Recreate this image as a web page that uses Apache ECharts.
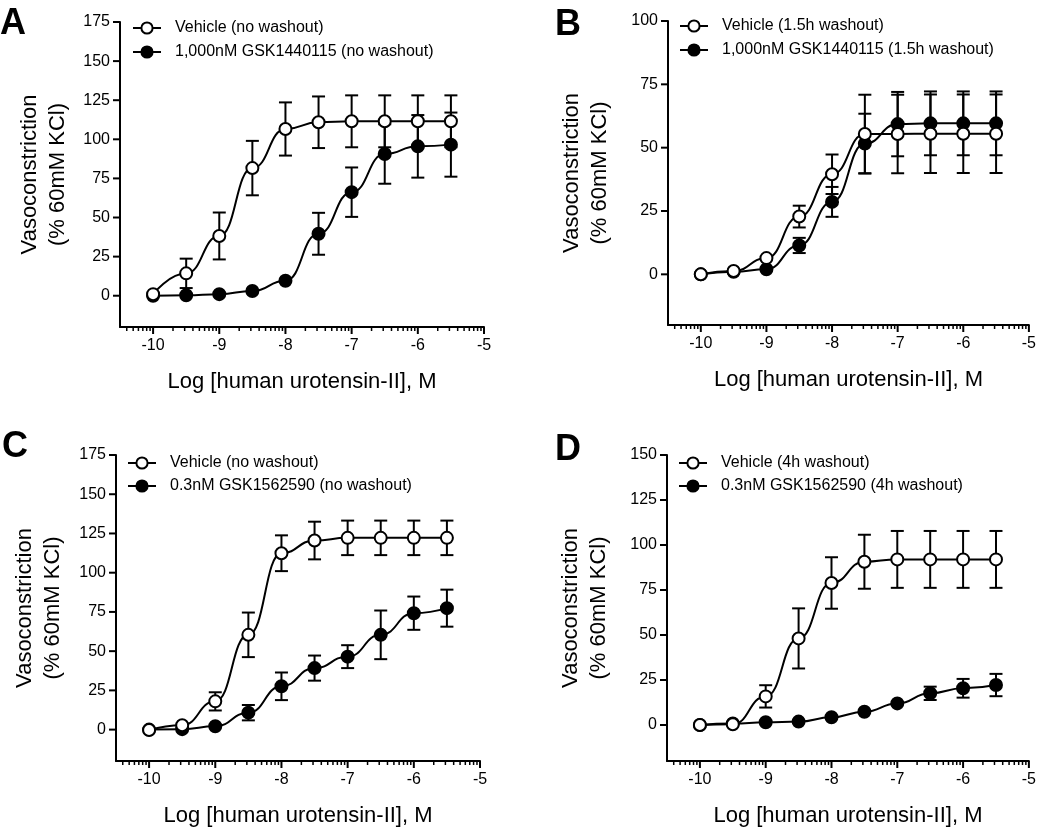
<!DOCTYPE html>
<html><head><meta charset="utf-8">
<script src="https://cdn.jsdelivr.net/npm/echarts@6/dist/echarts.min.js"></script>
<style>html,body{margin:0;padding:0;background:#fff}#c{width:1039px;height:831px}</style>
</head><body><div id="c"></div>
<script>
// ---- data ----
const logConc = [-10, -9.5, -9, -8.5, -8, -7.5, -7, -6.5, -6, -5.5];
const xTickLabels = [-10, -9, -8, -7, -6, -5];
const yTicksA = [0, 25, 50, 75, 100, 125, 150, 175];
const yTicksB = [0, 25, 50, 75, 100];
const yTicksC = [0, 25, 50, 75, 100, 125, 150, 175];
const yTicksD = [0, 25, 50, 75, 100, 125, 150];

const namesA = ['Vehicle (no washout)', '1,000nM GSK1440115 (no washout)'];
const namesB = ['Vehicle (1.5h washout)', '1,000nM GSK1440115 (1.5h washout)'];
const namesC = ['Vehicle (no washout)', '0.3nM GSK1562590 (no washout)'];
const namesD = ['Vehicle (4h washout)', '0.3nM GSK1562590 (4h washout)'];

const vehA    = [1, 14.3, 38.2, 81.6, 106.6, 110.9, 111.5, 111.5, 111.5, 111.5];
const vehA_e  = [0, 9.4, 15, 17.4, 17, 16.5, 16.6, 16.6, 16.6, 16.6];
const drugA   = [0, 0.3, 1, 3, 9.6, 39.6, 66.2, 90.6, 95.5, 96.6];
const drugA_e = [0, 0, 0, 0, 0, 13.4, 15.8, 19, 20, 20.5];

const vehB    = [0, 1.3, 6.4, 22.8, 39.5, 55.4, 55.4, 55.5, 55.5, 55.5];
const vehB_e  = [0, 0, 0, 4.3, 7.8, 15.5, 15.5, 15.5, 15.5, 15.5];
const drugB   = [0, 1, 2, 11.4, 28.6, 51.6, 59.3, 59.6, 59.6, 59.6];
const drugB_e = [0, 0, 0, 3, 5.9, 11.8, 12.7, 12.6, 12.6, 12.6];

const vehC    = [-0.3, 2.8, 18, 60.4, 112.4, 120.5, 122.2, 122.2, 122.2, 122.2];
const vehC_e  = [0, 0, 5.8, 14.2, 11.4, 12, 11, 11, 11, 11];
const drugC   = [0, 0.3, 2.1, 10.8, 27.6, 39.2, 46.5, 60.4, 74.2, 77.4];
const drugC_e = [0, 0, 0, 4.9, 8.8, 8, 7.3, 15.5, 10.6, 11.8];

const vehD    = [0, 0.4, 15.9, 48.1, 78.9, 90.7, 92, 92, 92, 92];
const vehD_e  = [0, 0, 6.2, 16.7, 14.3, 15, 15.8, 15.8, 15.8, 15.8];
const drugD   = [0, 0.8, 1.5, 1.9, 4.3, 7.4, 12, 17.6, 20.4, 22.2];
const drugD_e = [0, 0, 0, 0, 0, 0, 0, 3.7, 5.2, 6.2];

const panelLetters = ['A', 'B', 'C', 'D'];
const xTitle = 'Log [human urotensin-II], M';
const yTitle = 'Vasoconstriction\n(% 60mM KCl)';

// log-spaced minor tick positions (axis decoration)
const xMinorTicks = [];
for (let d = -11; d <= -6; d++) {
  for (let k = 2; k <= 9; k++) {
    const v = d + Math.log10(k);
    if (v > -10.5 && v < -5) xMinorTicks.push(+v.toFixed(4));
  }
}

// ---- layout ----
const FONT = '"Liberation Sans", Arial, sans-serif';
const X_MIN = -10.5, X_MAX = -5, Y_MIN = -20;
const panels = [
  {grid:{left:120, top:22, width:364, height:305}, yMax:175, yTicks:yTicksA, names:namesA, veh:vehA, vehE:vehA_e, drug:drugA, drugE:drugA_e, yGap:48, legend:{left:132, top:20, gap:8}, letter:{x:0, y:6}},
  {grid:{left:668, top:21, width:362, height:304}, yMax:100, yTicks:yTicksB, names:namesB, veh:vehB, vehE:vehB_e, drug:drugB, drugE:drugB_e, yGap:54, legend:{left:679, top:18, gap:8}, letter:{x:555, y:7}},
  {grid:{left:116, top:455, width:364, height:306}, yMax:175, yTicks:yTicksC, names:namesC, veh:vehC, vehE:vehC_e, drug:drugC, drugE:drugC_e, yGap:49, legend:{left:127, top:455, gap:7}, letter:{x:2, y:429}},
  {grid:{left:667, top:455, width:362, height:306}, yMax:150, yTicks:yTicksD, names:namesD, veh:vehD, vehE:vehD_e, drug:drugD, drugE:drugD_e, yGap:54, legend:{left:678, top:455, gap:7}, letter:{x:555, y:432}}
];

function errRender(params, api) {
  const x = api.value(0), y = api.value(1), e = api.value(2);
  if (!e) return null;
  const t = api.coord([x, y + e]), b = api.coord([x, y - e]);
  const hw = 6.5;
  const st = {stroke:'#000', lineWidth:2};
  return {type:'group', children:[
    {type:'line', shape:{x1:t[0], y1:t[1], x2:b[0], y2:b[1]}, style:st},
    {type:'line', shape:{x1:t[0]-hw, y1:t[1], x2:t[0]+hw, y2:t[1]}, style:st},
    {type:'line', shape:{x1:b[0]-hw, y1:b[1], x2:b[0]+hw, y2:b[1]}, style:st}
  ]};
}

// axis tick marks: item = [value, kind]; kind 0 = x major, 1 = x minor, 2 = y major
function tickRender(params, api) {
  const v = api.value(0), kind = api.value(1);
  if (kind === 2) {
    const p = api.coord([X_MIN, v]);
    return {type:'line', shape:{x1:p[0]-7, y1:p[1], x2:p[0], y2:p[1]}, style:{stroke:'#000', lineWidth:2}};
  }
  const p = api.coord([v, Y_MIN]);
  const len = kind === 0 ? 7 : 4;
  return {type:'line', shape:{x1:p[0], y1:p[1], x2:p[0], y2:p[1]+len}, style:{stroke:'#000', lineWidth: kind === 0 ? 2 : 1.5}};
}

const grid = [], xAxis = [], yAxis = [], series = [], legend = [], graphic = [];
panels.forEach((p, i) => {
  grid.push(Object.assign({containLabel:false}, p.grid));
  xAxis.push({
    type:'value', gridIndex:i, min:X_MIN, max:X_MAX, position:'bottom',
    axisLine:{show:true, onZero:false, lineStyle:{color:'#000', width:2}},
    axisTick:{show:false},
    axisLabel:{show:true, customValues:xTickLabels, color:'#000', fontSize:16, fontFamily:FONT, margin:11},
    splitLine:{show:false},
    name:xTitle, nameLocation:'middle', nameGap:44,
    nameTextStyle:{color:'#000', fontSize:22, fontFamily:FONT}
  });
  yAxis.push({
    type:'value', gridIndex:i, min:Y_MIN, max:p.yMax, position:'left',
    axisLine:{show:true, onZero:false, lineStyle:{color:'#000', width:2}},
    axisTick:{show:false},
    axisLabel:{show:true, customValues:p.yTicks, color:'#000', fontSize:16, fontFamily:FONT, margin:10},
    splitLine:{show:false},
    name:yTitle, nameLocation:'middle', nameGap:p.yGap, nameRotate:90,
    nameTextStyle:{color:'#000', fontSize:22, lineHeight:28, fontFamily:FONT}
  });
  const tickData = []
    .concat(xTickLabels.map(v => [v, 0]))
    .concat(xMinorTicks.map(v => [v, 1]))
    .concat(p.yTicks.map(v => [v, 2]));
  series.push({
    type:'custom', xAxisIndex:i, yAxisIndex:i, z:1, silent:true, clip:false,
    renderItem:tickRender, data:tickData
  });
  const mkErr = (vals, errs) => ({
    type:'custom', xAxisIndex:i, yAxisIndex:i, z:2, silent:true,
    renderItem:errRender, encode:{x:0, y:1},
    data: logConc.map((x, j) => [x, vals[j], errs[j]])
  });
  const mkLine = (name, vals, fill) => ({
    type:'line', name:name, xAxisIndex:i, yAxisIndex:i, z:3,
    data: logConc.map((x, j) => [x, vals[j]]),
    smooth:0.5, smoothMonotone:'x',
    symbol:'circle', symbolSize:12, showAllSymbol:true,
    lineStyle:{color:'#000', width:2},
    itemStyle:{color:fill, borderColor:'#000', borderWidth:2},
    emphasis:{disabled:true}, silent:true
  });
  series.push(mkErr(p.drug, p.drugE));
  series.push(mkErr(p.veh, p.vehE));
  series.push(mkLine(p.names[1], p.drug, '#000'));
  series.push(mkLine(p.names[0], p.veh, '#fff'));
  legend.push({
    orient:'vertical', left:p.legend.left, top:p.legend.top, padding:0,
    itemWidth:28, itemHeight:14, itemGap:p.legend.gap,
    data:[p.names[0], p.names[1]], selectedMode:false,
    textStyle:{color:'#000', fontSize:16, fontFamily:FONT, padding:[0,0,0,9]}
  });
  graphic.push({
    type:'text', left:p.letter.x, top:p.letter.y,
    style:{text:panelLetters[i], fontSize:36, fontWeight:'bold', fontFamily:FONT, fill:'#000'}
  });
});

const chart = echarts.init(document.getElementById('c'), null, {renderer:'canvas'});
chart.setOption({
  animation:false, backgroundColor:'#fff',
  grid, xAxis, yAxis, series, legend, graphic
});
</script>
</body></html>
